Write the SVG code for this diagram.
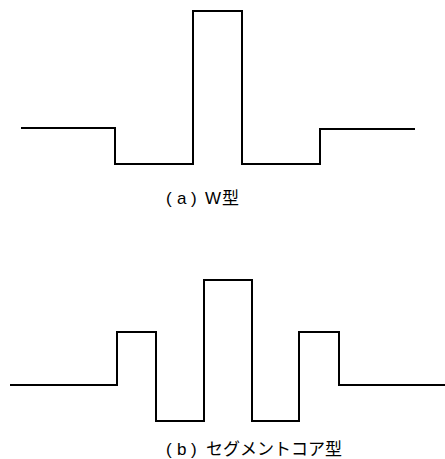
<svg xmlns="http://www.w3.org/2000/svg" width="445" height="459" viewBox="0 0 445 459">
  <style>
    .profile { fill: none; stroke: #000; stroke-width: 2; stroke-linejoin: miter; }
    .label { font-family: "Liberation Sans", "Noto Sans CJK JP", sans-serif; font-size: 17px; fill: #000; }
  </style>
  <rect width="445" height="459" fill="#fff"/>
  <!-- (a) W-shaped index profile -->
  <g id="profile-w">
    <path class="profile" d="M21,128 H115 V164 H193 V11 H242 V164 H320 V129 H415"/>
    <text class="label" y="204"><tspan x="166">(</tspan><tspan x="177">a</tspan><tspan x="191">)</tspan><tspan x="205">W</tspan><tspan x="222">型</tspan></text>
  </g>
  <!-- (b) segment-core index profile -->
  <g id="profile-segment">
    <path class="profile" d="M10,385 H117 V332 H156 V421 H204 V280 H252 V421 H299 V332 H339 V385 H445"/>
    <text class="label" y="455"><tspan x="166">(</tspan><tspan x="177">b</tspan><tspan x="191">)</tspan><tspan x="206">セグメントコア型</tspan></text>
  </g>
</svg>
